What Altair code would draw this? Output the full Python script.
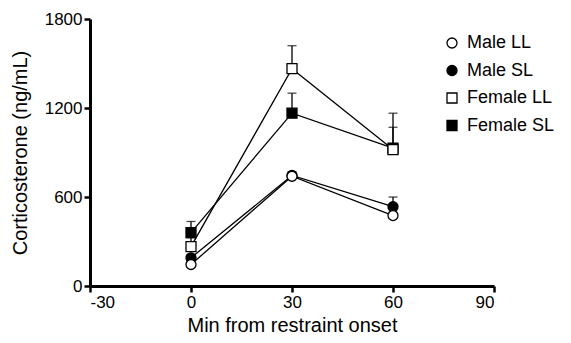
import altair as alt
import pandas as pd

times = [0, 30, 60]
series = ["Male LL", "Male SL", "Female LL", "Female SL"]
means = {
    "Male LL": [145, 740, 475],
    "Male SL": [190, 745, 535],
    "Female LL": [265, 1465, 920],
    "Female SL": [360, 1165, 930],
}
sems = {
    "Male LL": [15, 20, 20],
    "Male SL": [20, 25, 65],
    "Female LL": [60, 155, 245],
    "Female SL": [75, 135, 140],
}

rows = []
for s in reversed(series):
    for t, m, e in zip(times, means[s], sems[s]):
        rows.append({"time": t, "value": m, "top": m + e, "group": s})
df = pd.DataFrame(rows)

FONT = "Liberation Sans"

axis_common = dict(
    grid=False, domainColor="black", domainWidth=3, tickColor="black",
    tickWidth=2.5, tickSize=6, labelFont=FONT, labelFontSize=17,
    labelColor="black", titleFont=FONT, titleFontSize=20,
    titleFontWeight="normal", titleColor="black", labelPadding=2,
    labelExpr="datum.value + ''",
)

x = alt.X("time:Q", title="Min from restraint onset",
          scale=alt.Scale(domain=[-30, 90], nice=False, zero=False),
          axis=alt.Axis(values=[-30, 0, 30, 60, 90], titlePadding=5, **axis_common))
y = alt.Y("value:Q", title="Corticosterone (ng/mL)",
          scale=alt.Scale(domain=[0, 1800], nice=False),
          axis=alt.Axis(values=[0, 600, 1200, 1800], titlePadding=14, **axis_common))

base = alt.Chart(df)

lines = base.mark_line(color="black", strokeWidth=1.3).encode(
    x=x, y=y, detail="group:N")

err = base.mark_rule(color="black", strokeWidth=1.3).encode(
    x="time:Q", y="value:Q", y2="top:Q")
caps = base.mark_tick(color="black", orient="horizontal", size=9, thickness=1.3).encode(
    x="time:Q", y="top:Q")

shape_scale = alt.Scale(domain=series, range=["circle", "circle", "square", "square"])
fill_scale = alt.Scale(domain=series, range=["white", "black", "white", "black"])
stroke_scale = alt.Scale(domain=series, range=["black", "black", "black", "black"])
legend = alt.Legend(title=None, orient="none", legendX=353, legendY=15,
                    labelFontSize=18, labelFont=FONT, symbolSize=100,
                    rowPadding=9.5, padding=0, labelOffset=6,
                    symbolStrokeWidth=1.3, labelColor="black")
points = base.mark_point(filled=True, size=100, strokeWidth=1.3, opacity=1).encode(
    x="time:Q", y="value:Q",
    shape=alt.Shape("group:N", scale=shape_scale, legend=legend),
    fill=alt.Fill("group:N", scale=fill_scale, legend=legend),
    stroke=alt.Stroke("group:N", scale=stroke_scale, legend=legend),
)

chart = alt.layer(lines, err, caps, points).properties(
    width=404, height=267,
    padding={"left": 82, "top": 11, "right": 69, "bottom": 49},
    autosize=alt.AutoSizeParams(type="none"),
).configure_view(stroke=None)

chart.save("out.html", embed_options={"renderer": "svg", "actions": False})
